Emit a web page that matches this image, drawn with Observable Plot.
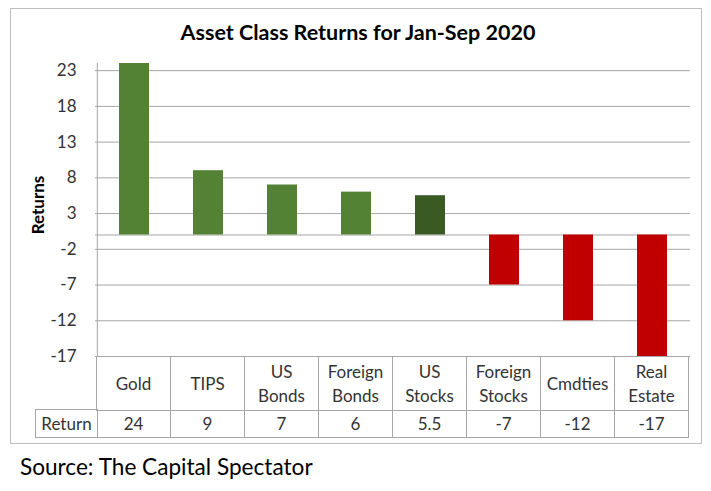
<!DOCTYPE html>
<html><head><meta charset="utf-8">
<script src="https://cdn.jsdelivr.net/npm/d3@7"></script>
<script src="https://cdn.jsdelivr.net/npm/@observablehq/plot@0.6"></script>
<style>
body{margin:0;background:#fff;font-family:Lato,"Open Sans",sans-serif;}
#wrap{position:relative;width:711px;height:491px;overflow:hidden;background:#fff}
#box{position:absolute;left:10px;top:8px;width:692px;height:436px;border:1px solid #bdbdbd;box-sizing:border-box}
#title{position:absolute;left:0;width:716px;top:19px;text-align:center;font-weight:bold;font-size:21.5px;color:#000;line-height:26px}
#ylab{position:absolute;left:37px;top:205px;transform:translate(-50%,-50%) rotate(-90deg);font-weight:bold;font-size:17px;color:#000;white-space:nowrap}
#chart{position:absolute;left:0;top:0}
#chart svg{overflow:visible}
.cell{position:absolute;box-sizing:border-box;display:flex;align-items:center;justify-content:center;text-align:center;font-size:17px;color:#333;line-height:24px;white-space:pre-line;border-right:1px solid #a6a6a6;border-bottom:1px solid #a6a6a6}
#caption{position:absolute;left:20px;top:453px;font-size:22.6px;color:#000;white-space:nowrap}
</style>
</head><body>
<div id="wrap">
  <div id="box"></div>
  <div id="chart"></div>
  <div id="title"></div>
  <div id="ylab"></div>
  <div id="caption"></div>
</div>
<script>
const titleText = "Asset Class Returns for Jan-Sep 2020";
const yLabel = "Returns";
const rowLabel = "Return";
const captionText = "Source: The Capital Spectator";
const categories = ["Gold", "TIPS", "US Bonds", "Foreign Bonds", "US Stocks", "Foreign Stocks", "Cmdties", "Real Estate"];
const returns = [24, 9, 7, 6, 5.5, -7, -12, -17];
const valueLabels = ["24", "9", "7", "6", "5.5", "-7", "-12", "-17"];
const yTicks = [23, 18, 13, 8, 3, -2, -7, -12, -17];
const yDomain = [-17, 24];

const data = categories.map((name, i) => ({name, value: returns[i]}));

const W = 711, H = 360, ML = 95, MR = 21, MT = 63, MB = 4;
const step = (W - ML - MR) / categories.length;
const green = "#548235", darkGreen = "#3a5a24", red = "#c00000", grid = "#a6a6a6";

const chart = Plot.plot({
  width: W, height: H,
  marginLeft: ML, marginRight: MR, marginTop: MT, marginBottom: MB,
  style: {fontFamily: "Lato, 'Open Sans', sans-serif", color: "#333", background: "transparent", overflow: "visible"},
  x: {domain: categories, paddingInner: 0.6, paddingOuter: 0.3, axis: null},
  y: {domain: yDomain, axis: null},
  marks: [
    Plot.ruleY(yTicks, {stroke: grid, strokeWidth: 1}),
    Plot.ruleY([0], {stroke: grid, strokeWidth: 1}),
    Plot.barY(data, {
      x: "name", y: "value",
      fill: d => d.value < 0 ? red : (d.name === "US Stocks" ? darkGreen : green)
    }),
    Plot.ruleX([categories[0]], {y1: yDomain[0], y2: yDomain[1], dx: -step / 2, stroke: grid}),
    Plot.axisY({ticks: yTicks, tickSize: 0, tickPadding: 19, fontSize: 17, tickFormat: d => String(d), label: null, fill: "#333"})
  ]
});
document.getElementById("chart").appendChild(chart);
document.getElementById("title").textContent = titleText;
document.getElementById("ylab").textContent = yLabel;
document.getElementById("caption").textContent = captionText;

// data table under the plot, aligned to the x scale
const xs = chart.scale("x");
const wrap = document.getElementById("wrap");
const top1 = H - MB, h1 = 54, h2 = 28;
function cell(left, top, width, height, text, extra) {
  const d = document.createElement("div");
  d.className = "cell";
  d.style.left = left + "px"; d.style.top = top + "px";
  d.style.width = width + "px"; d.style.height = height + "px";
  d.textContent = text;
  if (extra) Object.assign(d.style, extra);
  wrap.appendChild(d);
}
categories.forEach((c, i) => {
  const left = xs.apply(c) + xs.bandwidth / 2 - xs.step / 2;
  cell(left, top1 + 1, xs.step + (i === 0 ? 1 : 0), h1, c.replace(" ", "\n"),
       i === 0 ? {borderLeft: "1px solid #a6a6a6", left: (left - 1) + "px"} : null);
  cell(left, top1 + h1, xs.step, h2, valueLabels[i]);
});
const firstLeft = xs.apply(categories[0]) + xs.bandwidth / 2 - xs.step / 2;
cell(35, top1 + h1 - 1, firstLeft - 35 + 1, h2 + 1, rowLabel, {borderLeft: "1px solid #a6a6a6", borderTop: "1px solid #a6a6a6"});
</script>
</body></html>
